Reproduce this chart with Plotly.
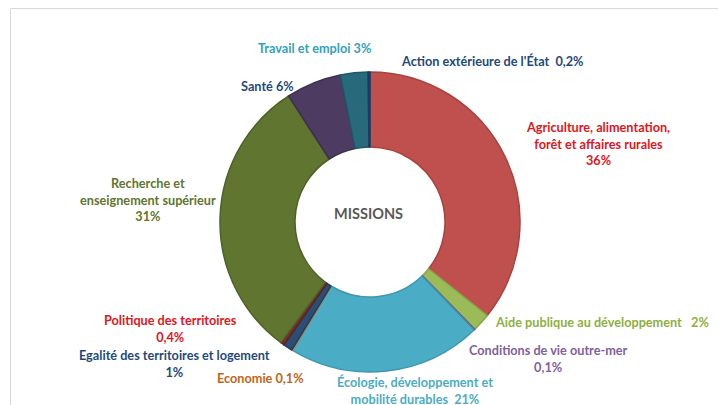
import plotly.graph_objects as go

# ---- data ----
missions = [
    "Agriculture, alimentation,<br>forêt et affaires rurales",
    "Aide publique au développement",
    "Conditions de vie outre-mer",
    "Écologie, développement et<br>mobilité durables",
    "Economie",
    "Egalité des territoires et logement",
    "Politique des territoires",
    "Recherche et<br>enseignement supérieur",
    "Santé",
    "Travail et emploi",
    "Action extérieure de l'État",
]
values = [36, 2, 0.1, 21, 0.1, 1, 0.4, 31, 6, 3, 0.2]
pct_labels = ["36%", "2%", "0,1%", "21%", "0,1%", "1%", "0,4%", "31%", "6%", "3%", "0,2%"]
# separator between name and percentage in each label
separators = ["<br>", "\u00a0\u00a0\u00a0", "<br>", "\u00a0\u00a0", " ", "<br>", "<br>", "<br>", " ", " ", "\u00a0\u00a0"]

# ---- styles ----
slice_colors = ["#C0504D", "#9BBB59", "#8064A2", "#4BACC6", "#F79646", "#2C4D75",
                "#772C2A", "#5F7530", "#4D3B62", "#276A7C", "#1F497D"]
border_colors = ["#A9423F", "#86A64A", "#6C5290", "#3E97AF", "#D9822F", "#223D5E",
                 "#5E2220", "#4E6127", "#3E304F", "#1F5766", "#183A63"]
text_colors = ["#E3141B", "#8DB040", "#7F5FA0", "#4BACC6", "#C0651A", "#1F497D",
               "#E3141B", "#5F7530", "#1F497D", "#31A2C0", "#1F497D"]
# label centre positions in pixels (x, y from top)
label_pos = [(598, 143), (602, 322), (548, 358), (415, 390), (260, 378), (174, 363),
             (170, 328), (148, 199), (267, 86), (314, 48), (492, 61)]

W, H = 718, 405
cx, cy, r = 370, 222, 150

fig = go.Figure(go.Pie(
    labels=[m.replace("<br>", " ") for m in missions],
    values=values,
    sort=False,
    direction="clockwise",
    rotation=0,
    hole=0.5,
    textinfo="none",
    marker=dict(colors=slice_colors, line=dict(color=border_colors, width=1.5)),
    domain=dict(x=[(cx - r) / W, (cx + r) / W], y=[1 - (cy + r) / H, 1 - (cy - r) / H]),
    showlegend=False,
))

annotations = []
for name, sep, pct, col, (px, py) in zip(missions, separators, pct_labels, text_colors, label_pos):
    annotations.append(dict(
        text=name + sep + pct, x=px / W, y=1 - py / H, xref="paper", yref="paper",
        xanchor="center", yanchor="middle", showarrow=False, align="center",
        font=dict(family="Lato", size=12.7, color=col, weight=700),
    ))
annotations.append(dict(
    text="MISSIONS", x=368 / W, y=1 - 214 / H, xref="paper", yref="paper",
    xanchor="center", yanchor="middle", showarrow=False,
    font=dict(family="Lato", size=14.5, color="#595959", weight=700),
))

fig.update_layout(
    width=W, height=H,
    margin=dict(l=0, r=0, t=0, b=0),
    paper_bgcolor="white", plot_bgcolor="white",
    annotations=annotations,
    shapes=[dict(type="rect", xref="paper", yref="paper",
                 x0=10.5 / W, x1=1.2, y0=-0.2, y1=1 - 8.5 / H,
                 line=dict(color="#D9D9D9", width=1))],
)

fig.write_html("out.html", config={"displayModeBar": False},
               post_script="document.body.style.margin='0';document.body.style.overflow='hidden';")
